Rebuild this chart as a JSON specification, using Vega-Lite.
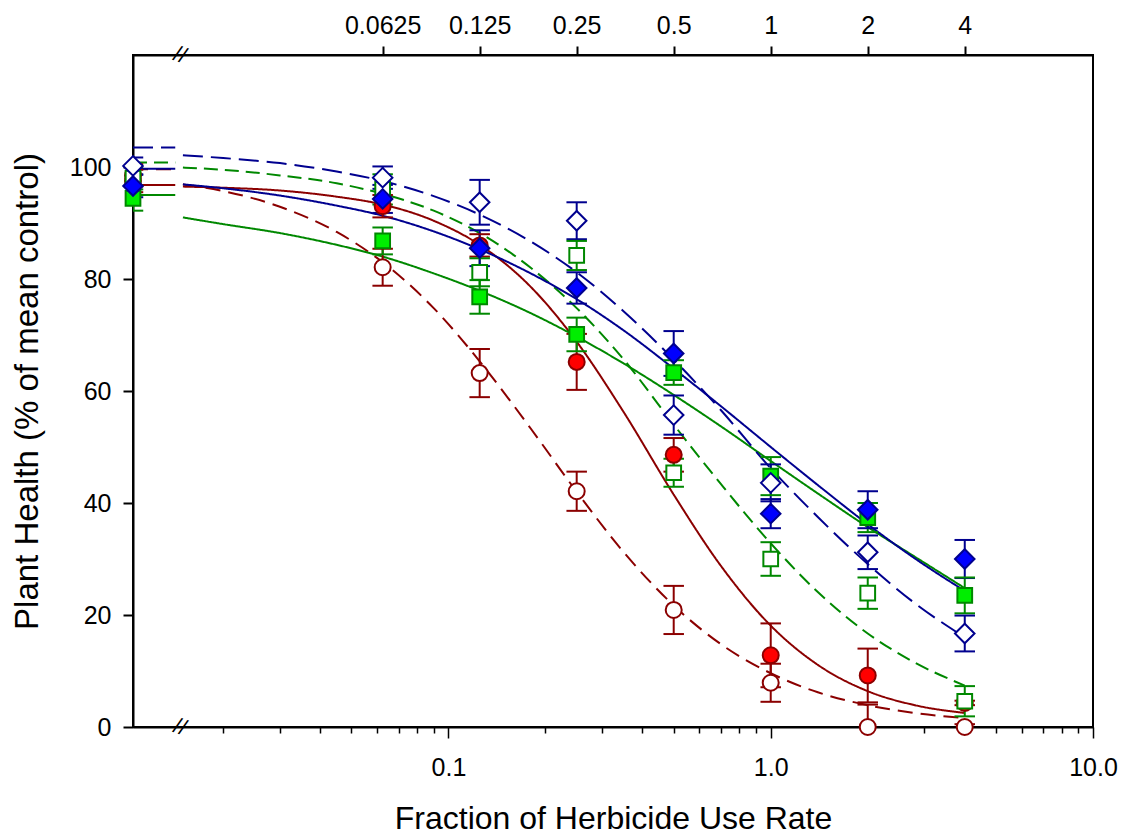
{
  "$schema": "https://vega.github.io/schema/vega-lite/v6.json",
  "width": 960,
  "height": 672,
  "autosize": {"type": "none"},
  "padding": {"left": 133, "top": 55, "right": 31, "bottom": 110},
  "background": "white",
  "config": {
    "view": {"stroke": "black", "strokeWidth": 2},
    "axis": {
      "grid": false,
      "domainColor": "black",
      "domainWidth": 2,
      "tickColor": "black",
      "tickWidth": 2,
      "labelColor": "black",
      "titleColor": "black",
      "labelFont": "Liberation Sans",
      "titleFont": "Liberation Sans",
      "labelFontSize": 25,
      "titleFontSize": 32,
      "titleFontWeight": "normal"
    }
  },
  "datasets": {
    "obs": [
      {"series": "filled circle", "x": 0.0105, "y": 97.5, "lo": 95.5, "hi": 99.5},
      {"series": "filled circle", "x": 0.0625, "y": 93.0, "lo": 91.0, "hi": 95.0},
      {"series": "filled circle", "x": 0.125, "y": 86.0, "lo": 84.0, "hi": 88.0},
      {"series": "filled circle", "x": 0.25, "y": 65.2, "lo": 60.2, "hi": 70.2},
      {"series": "filled circle", "x": 0.5, "y": 48.6, "lo": 45.6, "hi": 51.6},
      {"series": "filled circle", "x": 1, "y": 12.8, "lo": 7.1, "hi": 18.5},
      {"series": "filled circle", "x": 2, "y": 9.2, "lo": 4.4, "hi": 14.0},
      {"series": "filled circle", "x": 4, "y": 4.3, "lo": 3.9, "hi": 4.7},

      {"series": "open circle", "x": 0.0105, "y": 98.5, "lo": 96.5, "hi": 100.5},
      {"series": "open circle", "x": 0.0625, "y": 82.1, "lo": 78.8, "hi": 85.4},
      {"series": "open circle", "x": 0.125, "y": 63.2, "lo": 58.9, "hi": 67.5},
      {"series": "open circle", "x": 0.25, "y": 42.1, "lo": 38.6, "hi": 45.6},
      {"series": "open circle", "x": 0.5, "y": 20.9, "lo": 16.6, "hi": 25.2},
      {"series": "open circle", "x": 1, "y": 7.9, "lo": 4.5, "hi": 11.3},
      {"series": "open circle", "x": 2, "y": 0.0, "lo": -4.0, "hi": 4.0},
      {"series": "open circle", "x": 4, "y": 0.0, "lo": -0.5, "hi": 0.5},

      {"series": "filled square", "x": 0.0105, "y": 94.4, "lo": 92.2, "hi": 96.6},
      {"series": "filled square", "x": 0.0625, "y": 86.8, "lo": 84.4, "hi": 89.2},
      {"series": "filled square", "x": 0.125, "y": 76.8, "lo": 73.8, "hi": 79.8},
      {"series": "filled square", "x": 0.25, "y": 70.1, "lo": 67.1, "hi": 73.1},
      {"series": "filled square", "x": 0.5, "y": 63.3, "lo": 61.1, "hi": 65.5},
      {"series": "filled square", "x": 1, "y": 44.8, "lo": 41.4, "hi": 48.2},
      {"series": "filled square", "x": 2, "y": 37.4, "lo": 34.8, "hi": 40.0},
      {"series": "filled square", "x": 4, "y": 23.5, "lo": 20.3, "hi": 26.7},

      {"series": "open square", "x": 0.0105, "y": 98.0, "lo": 96.0, "hi": 100.0},
      {"series": "open square", "x": 0.0625, "y": 96.0, "lo": 93.3, "hi": 98.7},
      {"series": "open square", "x": 0.125, "y": 81.2, "lo": 78.7, "hi": 83.7},
      {"series": "open square", "x": 0.25, "y": 84.2, "lo": 81.6, "hi": 86.8},
      {"series": "open square", "x": 0.5, "y": 45.4, "lo": 42.9, "hi": 47.9},
      {"series": "open square", "x": 1, "y": 30.0, "lo": 27.0, "hi": 33.0},
      {"series": "open square", "x": 2, "y": 23.9, "lo": 21.1, "hi": 26.7},
      {"series": "open square", "x": 4, "y": 4.6, "lo": 1.9, "hi": 7.3},

      {"series": "filled diamond", "x": 0.0105, "y": 96.6, "lo": 94.6, "hi": 98.6},
      {"series": "filled diamond", "x": 0.0625, "y": 94.3, "lo": 91.8, "hi": 96.8},
      {"series": "filled diamond", "x": 0.125, "y": 85.5, "lo": 82.3, "hi": 88.7},
      {"series": "filled diamond", "x": 0.25, "y": 78.4, "lo": 75.6, "hi": 81.2},
      {"series": "filled diamond", "x": 0.5, "y": 66.7, "lo": 62.7, "hi": 70.7},
      {"series": "filled diamond", "x": 1, "y": 38.1, "lo": 35.5, "hi": 40.7},
      {"series": "filled diamond", "x": 2, "y": 38.8, "lo": 35.5, "hi": 42.1},
      {"series": "filled diamond", "x": 4, "y": 30.0, "lo": 26.6, "hi": 33.4},

      {"series": "open diamond", "x": 0.0105, "y": 100.2, "lo": 98.7, "hi": 101.7},
      {"series": "open diamond", "x": 0.0625, "y": 98.1, "lo": 96.1, "hi": 100.1},
      {"series": "open diamond", "x": 0.125, "y": 93.7, "lo": 89.7, "hi": 97.7},
      {"series": "open diamond", "x": 0.25, "y": 90.4, "lo": 87.1, "hi": 93.7},
      {"series": "open diamond", "x": 0.5, "y": 55.7, "lo": 52.2, "hi": 59.2},
      {"series": "open diamond", "x": 1, "y": 43.6, "lo": 40.3, "hi": 46.9},
      {"series": "open diamond", "x": 2, "y": 31.2, "lo": 28.2, "hi": 34.2},
      {"series": "open diamond", "x": 4, "y": 16.7, "lo": 13.5, "hi": 19.9}
    ],
    "fit": [
      {"series": "filled circle", "seg": "flat", "x": 0.0105, "y": 96.8},
      {"series": "filled circle", "seg": "flat", "x": 0.0142, "y": 96.8},
      {"series": "filled circle", "seg": "curve", "x": 0.015, "y": 96.5},
      {"series": "filled circle", "seg": "curve", "x": 0.02, "y": 96.3},
      {"series": "filled circle", "seg": "curve", "x": 0.03, "y": 95.8},
      {"series": "filled circle", "seg": "curve", "x": 0.045, "y": 94.7},
      {"series": "filled circle", "seg": "curve", "x": 0.0625, "y": 93.3},
      {"series": "filled circle", "seg": "curve", "x": 0.09, "y": 90.4},
      {"series": "filled circle", "seg": "curve", "x": 0.125, "y": 86.1},
      {"series": "filled circle", "seg": "curve", "x": 0.18, "y": 78.6},
      {"series": "filled circle", "seg": "curve", "x": 0.25, "y": 68.8},
      {"series": "filled circle", "seg": "curve", "x": 0.35, "y": 56.2},
      {"series": "filled circle", "seg": "curve", "x": 0.5, "y": 41.5},
      {"series": "filled circle", "seg": "curve", "x": 0.7, "y": 28.8},
      {"series": "filled circle", "seg": "curve", "x": 1, "y": 18.1},
      {"series": "filled circle", "seg": "curve", "x": 1.4, "y": 11.1},
      {"series": "filled circle", "seg": "curve", "x": 2, "y": 6.4},
      {"series": "filled circle", "seg": "curve", "x": 2.8, "y": 3.9},
      {"series": "filled circle", "seg": "curve", "x": 4, "y": 2.5},

      {"series": "open circle", "seg": "flat", "x": 0.0105, "y": 99.6},
      {"series": "open circle", "seg": "flat", "x": 0.0142, "y": 99.6},
      {"series": "open circle", "seg": "curve", "x": 0.015, "y": 96.9},
      {"series": "open circle", "seg": "curve", "x": 0.02, "y": 95.7},
      {"series": "open circle", "seg": "curve", "x": 0.03, "y": 92.9},
      {"series": "open circle", "seg": "curve", "x": 0.045, "y": 88.4},
      {"series": "open circle", "seg": "curve", "x": 0.0625, "y": 83.0},
      {"series": "open circle", "seg": "curve", "x": 0.09, "y": 74.8},
      {"series": "open circle", "seg": "curve", "x": 0.125, "y": 65.3},
      {"series": "open circle", "seg": "curve", "x": 0.18, "y": 53.3},
      {"series": "open circle", "seg": "curve", "x": 0.25, "y": 42.0},
      {"series": "open circle", "seg": "curve", "x": 0.35, "y": 31.2},
      {"series": "open circle", "seg": "curve", "x": 0.5, "y": 21.7},
      {"series": "open circle", "seg": "curve", "x": 0.7, "y": 14.8},
      {"series": "open circle", "seg": "curve", "x": 1, "y": 9.6},
      {"series": "open circle", "seg": "curve", "x": 1.4, "y": 6.2},
      {"series": "open circle", "seg": "curve", "x": 2, "y": 3.9},
      {"series": "open circle", "seg": "curve", "x": 2.8, "y": 2.5},
      {"series": "open circle", "seg": "curve", "x": 4, "y": 1.6},

      {"series": "filled square", "seg": "flat", "x": 0.0105, "y": 95.0},
      {"series": "filled square", "seg": "flat", "x": 0.0142, "y": 95.0},
      {"series": "filled square", "seg": "curve", "x": 0.015, "y": 91.0},
      {"series": "filled square", "seg": "curve", "x": 0.02, "y": 89.8},
      {"series": "filled square", "seg": "curve", "x": 0.03, "y": 88.2},
      {"series": "filled square", "seg": "curve", "x": 0.045, "y": 86.1},
      {"series": "filled square", "seg": "curve", "x": 0.0625, "y": 84.0},
      {"series": "filled square", "seg": "curve", "x": 0.09, "y": 81.0},
      {"series": "filled square", "seg": "curve", "x": 0.125, "y": 77.9},
      {"series": "filled square", "seg": "curve", "x": 0.18, "y": 73.9},
      {"series": "filled square", "seg": "curve", "x": 0.25, "y": 69.7},
      {"series": "filled square", "seg": "curve", "x": 0.35, "y": 64.9},
      {"series": "filled square", "seg": "curve", "x": 0.5, "y": 59.3},
      {"series": "filled square", "seg": "curve", "x": 0.7, "y": 53.7},
      {"series": "filled square", "seg": "curve", "x": 1, "y": 47.5},
      {"series": "filled square", "seg": "curve", "x": 1.4, "y": 41.7},
      {"series": "filled square", "seg": "curve", "x": 2, "y": 35.7},
      {"series": "filled square", "seg": "curve", "x": 2.8, "y": 30.4},
      {"series": "filled square", "seg": "curve", "x": 4, "y": 24.8},

      {"series": "open square", "seg": "flat", "x": 0.0105, "y": 100.8},
      {"series": "open square", "seg": "flat", "x": 0.0142, "y": 100.8},
      {"series": "open square", "seg": "curve", "x": 0.015, "y": 99.9},
      {"series": "open square", "seg": "curve", "x": 0.02, "y": 99.5},
      {"series": "open square", "seg": "curve", "x": 0.03, "y": 98.5},
      {"series": "open square", "seg": "curve", "x": 0.045, "y": 97.1},
      {"series": "open square", "seg": "curve", "x": 0.0625, "y": 95.2},
      {"series": "open square", "seg": "curve", "x": 0.09, "y": 92.2},
      {"series": "open square", "seg": "curve", "x": 0.125, "y": 88.2},
      {"series": "open square", "seg": "curve", "x": 0.18, "y": 82.0},
      {"series": "open square", "seg": "curve", "x": 0.25, "y": 74.8},
      {"series": "open square", "seg": "curve", "x": 0.35, "y": 65.6},
      {"series": "open square", "seg": "curve", "x": 0.5, "y": 54.0},
      {"series": "open square", "seg": "curve", "x": 0.7, "y": 43.4},
      {"series": "open square", "seg": "curve", "x": 1, "y": 32.8},
      {"series": "open square", "seg": "curve", "x": 1.4, "y": 24.1},
      {"series": "open square", "seg": "curve", "x": 2, "y": 16.7},
      {"series": "open square", "seg": "curve", "x": 2.8, "y": 11.5},
      {"series": "open square", "seg": "curve", "x": 4, "y": 7.4},

      {"series": "filled diamond", "seg": "flat", "x": 0.0105, "y": 99.7},
      {"series": "filled diamond", "seg": "flat", "x": 0.0142, "y": 99.7},
      {"series": "filled diamond", "seg": "curve", "x": 0.015, "y": 96.9},
      {"series": "filled diamond", "seg": "curve", "x": 0.02, "y": 96.2},
      {"series": "filled diamond", "seg": "curve", "x": 0.03, "y": 94.9},
      {"series": "filled diamond", "seg": "curve", "x": 0.045, "y": 93.1},
      {"series": "filled diamond", "seg": "curve", "x": 0.0625, "y": 91.3},
      {"series": "filled diamond", "seg": "curve", "x": 0.09, "y": 88.5},
      {"series": "filled diamond", "seg": "curve", "x": 0.125, "y": 85.3},
      {"series": "filled diamond", "seg": "curve", "x": 0.18, "y": 81.0},
      {"series": "filled diamond", "seg": "curve", "x": 0.25, "y": 76.4},
      {"series": "filled diamond", "seg": "curve", "x": 0.35, "y": 70.8},
      {"series": "filled diamond", "seg": "curve", "x": 0.5, "y": 64.0},
      {"series": "filled diamond", "seg": "curve", "x": 0.7, "y": 57.3},
      {"series": "filled diamond", "seg": "curve", "x": 1, "y": 50.0},
      {"series": "filled diamond", "seg": "curve", "x": 1.4, "y": 43.2},
      {"series": "filled diamond", "seg": "curve", "x": 2, "y": 36.2},
      {"series": "filled diamond", "seg": "curve", "x": 2.8, "y": 30.1},
      {"series": "filled diamond", "seg": "curve", "x": 4, "y": 24.3},

      {"series": "open diamond", "seg": "flat", "x": 0.0105, "y": 103.5},
      {"series": "open diamond", "seg": "flat", "x": 0.0142, "y": 103.5},
      {"series": "open diamond", "seg": "curve", "x": 0.015, "y": 102.1},
      {"series": "open diamond", "seg": "curve", "x": 0.02, "y": 101.6},
      {"series": "open diamond", "seg": "curve", "x": 0.03, "y": 100.7},
      {"series": "open diamond", "seg": "curve", "x": 0.045, "y": 99.2},
      {"series": "open diamond", "seg": "curve", "x": 0.0625, "y": 97.5},
      {"series": "open diamond", "seg": "curve", "x": 0.09, "y": 94.8},
      {"series": "open diamond", "seg": "curve", "x": 0.125, "y": 91.5},
      {"series": "open diamond", "seg": "curve", "x": 0.18, "y": 86.7},
      {"series": "open diamond", "seg": "curve", "x": 0.25, "y": 81.2},
      {"series": "open diamond", "seg": "curve", "x": 0.35, "y": 74.2},
      {"series": "open diamond", "seg": "curve", "x": 0.5, "y": 65.6},
      {"series": "open diamond", "seg": "curve", "x": 0.7, "y": 56.6},
      {"series": "open diamond", "seg": "curve", "x": 1, "y": 46.2},
      {"series": "open diamond", "seg": "curve", "x": 1.4, "y": 37.5},
      {"series": "open diamond", "seg": "curve", "x": 2, "y": 29.1},
      {"series": "open diamond", "seg": "curve", "x": 2.8, "y": 22.1},
      {"series": "open diamond", "seg": "curve", "x": 4, "y": 16.0}
    ],
    "breaks": [
      {"x": 0.0147, "y": 0, "mark": "//"},
      {"x": 0.0147, "y": 120, "mark": "//"}
    ]
  },
  "encoding": {
    "y": {
      "field": "y",
      "type": "quantitative",
      "scale": {"domain": [0, 120], "nice": false, "zero": false},
      "axis": {
        "values": [0, 20, 40, 60, 80, 100],
        "tickSize": 10,
        "labelPadding": 12,
        "title": "Plant Health (% of mean control)",
        "titleFontSize": 33,
        "titlePadding": 25
      }
    }
  },
  "layer": [
    {
      "data": {"name": "fit"},
      "mark": {"type": "line", "strokeWidth": 2, "interpolate": "monotone", "clip": true},
      "encoding": {
        "x": {
          "field": "x",
          "type": "quantitative",
          "scale": {"type": "log", "domain": [0.0105, 10], "nice": false},
          "axis": {
            "orient": "bottom",
            "values": [0.02, 0.03, 0.04, 0.05, 0.06, 0.07, 0.08, 0.09, 0.1, 0.2, 0.3, 0.4, 0.5, 0.6, 0.7, 0.8, 0.9, 1, 2, 3, 4, 5, 6, 7, 8, 9, 10],
            "labelExpr": "(datum.value == 0.1 || datum.value == 1 || datum.value == 10) ? format(datum.value, '.1f') : ''",
            "tickSize": {"condition": {"test": "datum.value == 0.1 || datum.value == 1 || datum.value == 10", "value": 11}, "value": 6},
            "tickWidth": 1.5,
            "labelPadding": 17,
            "labelFlush": false,
            "title": "Fraction of Herbicide Use Rate",
            "titlePadding": 23
          }
        },
        "detail": {"field": "seg"},
        "stroke": {
          "field": "series",
          "type": "nominal",
          "scale": {
            "domain": ["filled circle", "open circle", "filled square", "open square", "filled diamond", "open diamond"],
            "range": ["#8B0000", "#8B0000", "#008800", "#008800", "#00008F", "#00008F"]
          },
          "legend": null
        },
        "strokeDash": {
          "field": "series",
          "type": "nominal",
          "scale": {
            "domain": ["filled circle", "open circle", "filled square", "open square", "filled diamond", "open diamond"],
            "range": [[1, 0], [15, 8], [1, 0], [14, 7], [1, 0], [20, 8]]
          },
          "legend": null
        }
      }
    },
    {
      "data": {"name": "obs"},
      "mark": {"type": "rule", "strokeWidth": 2, "clip": true},
      "encoding": {
        "x": {
          "field": "x",
          "type": "quantitative",
          "scale": {"type": "log", "domain": [0.0105, 10], "nice": false},
          "axis": null
        },
        "y": {"field": "lo", "type": "quantitative"},
        "y2": {"field": "hi"},
        "stroke": {
          "field": "series",
          "type": "nominal",
          "scale": {
            "domain": ["filled circle", "open circle", "filled square", "open square", "filled diamond", "open diamond"],
            "range": ["#8B0000", "#8B0000", "#008800", "#008800", "#00008F", "#00008F"]
          },
          "legend": null
        }
      }
    },
    {
      "data": {"name": "obs"},
      "mark": {"type": "point", "shape": "M-1,0L1,0", "size": 420, "strokeWidth": 2, "filled": false, "opacity": 1, "clip": true},
      "encoding": {
        "x": {
          "field": "x",
          "type": "quantitative",
          "scale": {"type": "log", "domain": [0.0105, 10], "nice": false},
          "axis": null
        },
        "y": {"field": "lo", "type": "quantitative"},
        "stroke": {
          "field": "series",
          "type": "nominal",
          "scale": {
            "domain": ["filled circle", "open circle", "filled square", "open square", "filled diamond", "open diamond"],
            "range": ["#8B0000", "#8B0000", "#008800", "#008800", "#00008F", "#00008F"]
          },
          "legend": null
        }
      }
    },
    {
      "data": {"name": "obs"},
      "mark": {"type": "point", "shape": "M-1,0L1,0", "size": 420, "strokeWidth": 2, "filled": false, "opacity": 1, "clip": true},
      "encoding": {
        "x": {
          "field": "x",
          "type": "quantitative",
          "scale": {"type": "log", "domain": [0.0105, 10], "nice": false},
          "axis": null
        },
        "y": {"field": "hi", "type": "quantitative"},
        "stroke": {
          "field": "series",
          "type": "nominal",
          "scale": {
            "domain": ["filled circle", "open circle", "filled square", "open square", "filled diamond", "open diamond"],
            "range": ["#8B0000", "#8B0000", "#008800", "#008800", "#00008F", "#00008F"]
          },
          "legend": null
        }
      }
    },
    {
      "data": {"name": "obs"},
      "mark": {"type": "point", "filled": true, "strokeWidth": 2, "opacity": 1, "size": 256},
      "encoding": {
        "x": {
          "field": "x",
          "type": "quantitative",
          "scale": {"type": "log", "domain": [0.0105, 10], "nice": false},
          "axis": {
            "orient": "top",
            "values": [0.0625, 0.125, 0.25, 0.5, 1, 2, 4],
            "labelExpr": "format(datum.value, '~g')",
            "tickSize": 9,
            "labelPadding": 8,
            "title": null
          }
        },
        "shape": {
          "field": "series",
          "type": "nominal",
          "scale": {
            "domain": ["filled circle", "open circle", "filled square", "open square", "filled diamond", "open diamond"],
            "range": ["circle", "circle", "M-0.92,-0.92L0.92,-0.92L0.92,0.92L-0.92,0.92Z", "M-0.92,-0.92L0.92,-0.92L0.92,0.92L-0.92,0.92Z", "M-1.22,0L0,-1.22L1.22,0L0,1.22Z", "M-1.22,0L0,-1.22L1.22,0L0,1.22Z"]
          },
          "legend": null
        },
        "fill": {
          "field": "series",
          "type": "nominal",
          "scale": {
            "domain": ["filled circle", "open circle", "filled square", "open square", "filled diamond", "open diamond"],
            "range": ["#FF0000", "#FFFFFF", "#00EE00", "#FFFFFF", "#0000FF", "#FFFFFF"]
          },
          "legend": null
        },
        "stroke": {
          "field": "series",
          "type": "nominal",
          "scale": {
            "domain": ["filled circle", "open circle", "filled square", "open square", "filled diamond", "open diamond"],
            "range": ["#8B0000", "#8B0000", "#008800", "#008800", "#00008F", "#00008F"]
          },
          "legend": null
        }
      }
    },
    {
      "data": {"name": "breaks"},
      "mark": {"type": "text", "fontSize": 22, "font": "Liberation Sans", "angle": 20, "baseline": "middle", "align": "center", "color": "black"},
      "encoding": {
        "x": {
          "field": "x",
          "type": "quantitative",
          "scale": {"type": "log", "domain": [0.0105, 10], "nice": false},
          "axis": null
        },
        "text": {"field": "mark"}
      }
    }
  ],
  "resolve": {"axis": {"x": "independent"}}
}
